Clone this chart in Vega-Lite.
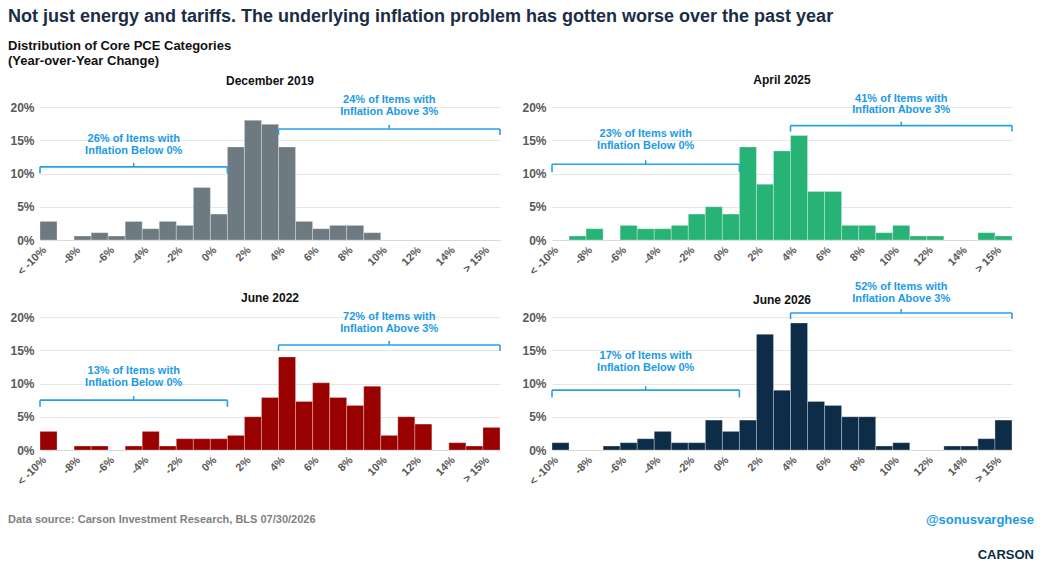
{
  "$schema": "https://vega.github.io/schema/vega-lite/v6.json",
  "background": "white",
  "padding": {"left": 8, "top": 8, "right": 6, "bottom": 2},
  "config": {
    "view": {"stroke": null},
    "font": "Liberation Sans",
    "title": {"fontSize": 12, "fontWeight": "bold", "color": "#111111", "offset": 6},
    "axisX": {
      "title": null, "grid": false, "values": [0.5, 2.5, 4.5, 6.5, 8.5, 10.5, 12.5, 14.5, 16.5, 18.5, 20.5, 22.5, 24.5, 26.5],
      "labelExpr": "datum.value < 1 ? '< -10%' : datum.value >= 25.9 ? '> 15%' : (floor(datum.value) - 10) + '%'",
      "labelAngle": -45, "labelAlign": "right", "labelBaseline": "top", "labelFontSize": 11, "labelFontWeight": "bold",
      "labelColor": "#595959", "ticks": false, "domainColor": "#d9d9d9", "labelPadding": 4
    },
    "axisY": {
      "title": "Frequency", "titleFontSize": 12, "titleFontWeight": "bold", "titleColor": "#595959",
      "values": [0, 5, 10, 15, 20], "labelExpr": "datum.value + '%'", "labelFontSize": 12, "labelFontWeight": "bold",
      "labelColor": "#595959", "domain": false, "ticks": false, "gridColor": "#e6e6e6", "labelPadding": 6
    }
  },
  "title": {
    "text": "Not just energy and tariffs. The underlying inflation problem has gotten worse over the past year",
    "subtitle": ["Distribution of Core PCE Categories", "(Year-over-Year Change)"],
    "anchor": "start", "fontSize": 18, "fontWeight": "bold", "color": "#1b2d45",
    "subtitleFontSize": 13, "subtitleFontWeight": "bold", "subtitleColor": "#111111", "subtitlePadding": 14, "offset": 6
  },
  "datasets": {
    "main": [
      {"p": "December 2019", "c": "bar", "k": 0, "v": 2.8}, {"p": "December 2019", "c": "bar", "k": 2, "v": 0.6},
      {"p": "December 2019", "c": "bar", "k": 3, "v": 1.1}, {"p": "December 2019", "c": "bar", "k": 4, "v": 0.6},
      {"p": "December 2019", "c": "bar", "k": 5, "v": 2.8}, {"p": "December 2019", "c": "bar", "k": 6, "v": 1.7},
      {"p": "December 2019", "c": "bar", "k": 7, "v": 2.8}, {"p": "December 2019", "c": "bar", "k": 8, "v": 2.2},
      {"p": "December 2019", "c": "bar", "k": 9, "v": 7.9}, {"p": "December 2019", "c": "bar", "k": 10, "v": 3.9},
      {"p": "December 2019", "c": "bar", "k": 11, "v": 14.0}, {"p": "December 2019", "c": "bar", "k": 12, "v": 18.0},
      {"p": "December 2019", "c": "bar", "k": 13, "v": 17.4}, {"p": "December 2019", "c": "bar", "k": 14, "v": 14.0},
      {"p": "December 2019", "c": "bar", "k": 15, "v": 2.8}, {"p": "December 2019", "c": "bar", "k": 16, "v": 1.7},
      {"p": "December 2019", "c": "bar", "k": 17, "v": 2.2}, {"p": "December 2019", "c": "bar", "k": 18, "v": 2.2},
      {"p": "December 2019", "c": "bar", "k": 19, "v": 1.1},

      {"p": "April 2025", "c": "bar", "k": 1, "v": 0.6}, {"p": "April 2025", "c": "bar", "k": 2, "v": 1.7},
      {"p": "April 2025", "c": "bar", "k": 4, "v": 2.2}, {"p": "April 2025", "c": "bar", "k": 5, "v": 1.7},
      {"p": "April 2025", "c": "bar", "k": 6, "v": 1.7}, {"p": "April 2025", "c": "bar", "k": 7, "v": 2.2},
      {"p": "April 2025", "c": "bar", "k": 8, "v": 3.9}, {"p": "April 2025", "c": "bar", "k": 9, "v": 5.0},
      {"p": "April 2025", "c": "bar", "k": 10, "v": 3.9}, {"p": "April 2025", "c": "bar", "k": 11, "v": 14.0},
      {"p": "April 2025", "c": "bar", "k": 12, "v": 8.4}, {"p": "April 2025", "c": "bar", "k": 13, "v": 13.4},
      {"p": "April 2025", "c": "bar", "k": 14, "v": 15.7}, {"p": "April 2025", "c": "bar", "k": 15, "v": 7.3},
      {"p": "April 2025", "c": "bar", "k": 16, "v": 7.3}, {"p": "April 2025", "c": "bar", "k": 17, "v": 2.2},
      {"p": "April 2025", "c": "bar", "k": 18, "v": 2.2}, {"p": "April 2025", "c": "bar", "k": 19, "v": 1.1},
      {"p": "April 2025", "c": "bar", "k": 20, "v": 2.2}, {"p": "April 2025", "c": "bar", "k": 21, "v": 0.6},
      {"p": "April 2025", "c": "bar", "k": 22, "v": 0.6}, {"p": "April 2025", "c": "bar", "k": 25, "v": 1.1},
      {"p": "April 2025", "c": "bar", "k": 26, "v": 0.6},

      {"p": "June 2022", "c": "bar", "k": 0, "v": 2.8}, {"p": "June 2022", "c": "bar", "k": 2, "v": 0.6},
      {"p": "June 2022", "c": "bar", "k": 3, "v": 0.6}, {"p": "June 2022", "c": "bar", "k": 5, "v": 0.6},
      {"p": "June 2022", "c": "bar", "k": 6, "v": 2.8}, {"p": "June 2022", "c": "bar", "k": 7, "v": 0.6},
      {"p": "June 2022", "c": "bar", "k": 8, "v": 1.7}, {"p": "June 2022", "c": "bar", "k": 9, "v": 1.7},
      {"p": "June 2022", "c": "bar", "k": 10, "v": 1.7}, {"p": "June 2022", "c": "bar", "k": 11, "v": 2.2},
      {"p": "June 2022", "c": "bar", "k": 12, "v": 5.0}, {"p": "June 2022", "c": "bar", "k": 13, "v": 7.9},
      {"p": "June 2022", "c": "bar", "k": 14, "v": 14.0}, {"p": "June 2022", "c": "bar", "k": 15, "v": 7.3},
      {"p": "June 2022", "c": "bar", "k": 16, "v": 10.1}, {"p": "June 2022", "c": "bar", "k": 17, "v": 7.9},
      {"p": "June 2022", "c": "bar", "k": 18, "v": 6.7}, {"p": "June 2022", "c": "bar", "k": 19, "v": 9.6},
      {"p": "June 2022", "c": "bar", "k": 20, "v": 2.2}, {"p": "June 2022", "c": "bar", "k": 21, "v": 5.0},
      {"p": "June 2022", "c": "bar", "k": 22, "v": 3.9}, {"p": "June 2022", "c": "bar", "k": 24, "v": 1.1},
      {"p": "June 2022", "c": "bar", "k": 25, "v": 0.6}, {"p": "June 2022", "c": "bar", "k": 26, "v": 3.4},

      {"p": "June 2026", "c": "bar", "k": 0, "v": 1.1}, {"p": "June 2026", "c": "bar", "k": 3, "v": 0.6},
      {"p": "June 2026", "c": "bar", "k": 4, "v": 1.1}, {"p": "June 2026", "c": "bar", "k": 5, "v": 1.7},
      {"p": "June 2026", "c": "bar", "k": 6, "v": 2.8}, {"p": "June 2026", "c": "bar", "k": 7, "v": 1.1},
      {"p": "June 2026", "c": "bar", "k": 8, "v": 1.1}, {"p": "June 2026", "c": "bar", "k": 9, "v": 4.5},
      {"p": "June 2026", "c": "bar", "k": 10, "v": 2.8}, {"p": "June 2026", "c": "bar", "k": 11, "v": 4.5},
      {"p": "June 2026", "c": "bar", "k": 12, "v": 17.4}, {"p": "June 2026", "c": "bar", "k": 13, "v": 9.0},
      {"p": "June 2026", "c": "bar", "k": 14, "v": 19.1}, {"p": "June 2026", "c": "bar", "k": 15, "v": 7.3},
      {"p": "June 2026", "c": "bar", "k": 16, "v": 6.7}, {"p": "June 2026", "c": "bar", "k": 17, "v": 5.0},
      {"p": "June 2026", "c": "bar", "k": 18, "v": 5.0}, {"p": "June 2026", "c": "bar", "k": 19, "v": 0.6},
      {"p": "June 2026", "c": "bar", "k": 20, "v": 1.1}, {"p": "June 2026", "c": "bar", "k": 23, "v": 0.6},
      {"p": "June 2026", "c": "bar", "k": 24, "v": 0.6}, {"p": "June 2026", "c": "bar", "k": 25, "v": 1.7},
      {"p": "June 2026", "c": "bar", "k": 26, "v": 4.5},

      {"p": "December 2019", "c": "seg", "x": 0, "x2": 11, "y": 11.0, "y2": 11.0},
      {"p": "December 2019", "c": "seg", "x": 0, "x2": 0, "y": 11.0, "y2": 10.0},
      {"p": "December 2019", "c": "seg", "x": 11, "x2": 11, "y": 11.0, "y2": 10.0},
      {"p": "December 2019", "c": "seg", "x": 5.5, "x2": 5.5, "y": 11.0, "y2": 11.6},
      {"p": "December 2019", "c": "seg", "x": 14, "x2": 27, "y": 16.7, "y2": 16.7},
      {"p": "December 2019", "c": "seg", "x": 14, "x2": 14, "y": 16.7, "y2": 15.8},
      {"p": "December 2019", "c": "seg", "x": 27, "x2": 27, "y": 16.7, "y2": 15.8},
      {"p": "December 2019", "c": "seg", "x": 20.5, "x2": 20.5, "y": 16.7, "y2": 17.3},
      {"p": "December 2019", "c": "txt", "x": 5.5, "y": 15.2, "t": "26% of Items with"},
      {"p": "December 2019", "c": "txt", "x": 5.5, "y": 13.4, "t": "Inflation Below 0%"},
      {"p": "December 2019", "c": "txt", "x": 20.5, "y": 21.0, "t": "24% of Items with"},
      {"p": "December 2019", "c": "txt", "x": 20.5, "y": 19.3, "t": "Inflation Above 3%"},

      {"p": "April 2025", "c": "seg", "x": 0, "x2": 11, "y": 11.4, "y2": 11.4},
      {"p": "April 2025", "c": "seg", "x": 0, "x2": 0, "y": 11.4, "y2": 10.2},
      {"p": "April 2025", "c": "seg", "x": 11, "x2": 11, "y": 11.4, "y2": 10.2},
      {"p": "April 2025", "c": "seg", "x": 5.5, "x2": 5.5, "y": 11.4, "y2": 12.0},
      {"p": "April 2025", "c": "seg", "x": 14, "x2": 27, "y": 17.2, "y2": 17.2},
      {"p": "April 2025", "c": "seg", "x": 14, "x2": 14, "y": 17.2, "y2": 16.3},
      {"p": "April 2025", "c": "seg", "x": 27, "x2": 27, "y": 17.2, "y2": 16.3},
      {"p": "April 2025", "c": "seg", "x": 20.5, "x2": 20.5, "y": 17.2, "y2": 17.8},
      {"p": "April 2025", "c": "txt", "x": 5.5, "y": 16.0, "t": "23% of Items with"},
      {"p": "April 2025", "c": "txt", "x": 5.5, "y": 14.1, "t": "Inflation Below 0%"},
      {"p": "April 2025", "c": "txt", "x": 20.5, "y": 21.2, "t": "41% of Items with"},
      {"p": "April 2025", "c": "txt", "x": 20.5, "y": 19.5, "t": "Inflation Above 3%"},

      {"p": "June 2022", "c": "seg", "x": 0, "x2": 11, "y": 7.5, "y2": 7.5},
      {"p": "June 2022", "c": "seg", "x": 0, "x2": 0, "y": 7.5, "y2": 6.5},
      {"p": "June 2022", "c": "seg", "x": 11, "x2": 11, "y": 7.5, "y2": 6.5},
      {"p": "June 2022", "c": "seg", "x": 5.5, "x2": 5.5, "y": 7.5, "y2": 8.1},
      {"p": "June 2022", "c": "seg", "x": 14, "x2": 27, "y": 15.8, "y2": 15.8},
      {"p": "June 2022", "c": "seg", "x": 14, "x2": 14, "y": 15.8, "y2": 14.9},
      {"p": "June 2022", "c": "seg", "x": 27, "x2": 27, "y": 15.8, "y2": 14.9},
      {"p": "June 2022", "c": "seg", "x": 20.5, "x2": 20.5, "y": 15.8, "y2": 16.4},
      {"p": "June 2022", "c": "txt", "x": 5.5, "y": 11.9, "t": "13% of Items with"},
      {"p": "June 2022", "c": "txt", "x": 5.5, "y": 10.1, "t": "Inflation Below 0%"},
      {"p": "June 2022", "c": "txt", "x": 20.5, "y": 20.0, "t": "72% of Items with"},
      {"p": "June 2022", "c": "txt", "x": 20.5, "y": 18.2, "t": "Inflation Above 3%"},

      {"p": "June 2026", "c": "seg", "x": 0, "x2": 11, "y": 9.0, "y2": 9.0},
      {"p": "June 2026", "c": "seg", "x": 0, "x2": 0, "y": 9.0, "y2": 7.9},
      {"p": "June 2026", "c": "seg", "x": 11, "x2": 11, "y": 9.0, "y2": 7.9},
      {"p": "June 2026", "c": "seg", "x": 5.5, "x2": 5.5, "y": 9.0, "y2": 9.6},
      {"p": "June 2026", "c": "seg", "x": 14, "x2": 27, "y": 20.6, "y2": 20.6},
      {"p": "June 2026", "c": "seg", "x": 14, "x2": 14, "y": 20.6, "y2": 19.7},
      {"p": "June 2026", "c": "seg", "x": 27, "x2": 27, "y": 20.6, "y2": 19.7},
      {"p": "June 2026", "c": "seg", "x": 20.5, "x2": 20.5, "y": 20.6, "y2": 21.2},
      {"p": "June 2026", "c": "txt", "x": 5.5, "y": 14.2, "t": "17% of Items with"},
      {"p": "June 2026", "c": "txt", "x": 5.5, "y": 12.3, "t": "Inflation Below 0%"},
      {"p": "June 2026", "c": "txt", "x": 20.5, "y": 24.5, "t": "52% of Items with"},
      {"p": "June 2026", "c": "txt", "x": 20.5, "y": 22.7, "t": "Inflation Above 3%"}
    ],
    "foot": [
      {"x": 0, "y": 0.55, "t": "Data source: Carson Investment Research, BLS   07/30/2026", "s": "src"},
      {"x": 1, "y": 0.55, "t": "@sonusvarghese", "s": "tag"},
      {"x": 1, "y": 0.0, "t": "CARSON", "s": "logo"}
    ]
  },
  "data": {"name": "main"},
  "spacing": 4,
  "align": "none",
  "center": false,
  "vconcat": [
    {
      "spacing": 20,
      "hconcat": [
        {
          "title": "December 2019", "width": 460, "height": 133,
          "transform": [{"filter": "datum.p == 'December 2019'"}],
          "layer": [
            {"transform": [{"filter": "datum.c == 'bar'"}, {"calculate": "datum.k + 1", "as": "k2"}],
             "mark": {"type": "bar", "color": "#6e7a82", "stroke": "white", "strokeWidth": 0.3},
             "encoding": {"x": {"field": "k", "type": "quantitative", "scale": {"domain": [0, 27], "nice": false, "zero": false}}, "x2": {"field": "k2"},
                          "y": {"field": "v", "type": "quantitative", "scale": {"domain": [0, 20], "nice": false}}, "y2": {"datum": 0}}},
            {"transform": [{"filter": "datum.c == 'seg'"}], "mark": {"type": "rule", "color": "#29a0e6", "strokeWidth": 1.6},
             "encoding": {"x": {"field": "x", "type": "quantitative"}, "x2": {"field": "x2"}, "y": {"field": "y", "type": "quantitative"}, "y2": {"field": "y2"}}},
            {"transform": [{"filter": "datum.c == 'txt'"}], "mark": {"type": "text", "color": "#1a9be6", "fontSize": 11, "fontWeight": "bold", "baseline": "middle"},
             "encoding": {"x": {"field": "x", "type": "quantitative"}, "y": {"field": "y", "type": "quantitative"}, "text": {"field": "t"}}}
          ]
        },
        {
          "title": "April 2025", "width": 460, "height": 133,
          "transform": [{"filter": "datum.p == 'April 2025'"}],
          "layer": [
            {"transform": [{"filter": "datum.c == 'bar'"}, {"calculate": "datum.k + 1", "as": "k2"}],
             "mark": {"type": "bar", "color": "#27b376", "stroke": "white", "strokeWidth": 0.3},
             "encoding": {"x": {"field": "k", "type": "quantitative", "scale": {"domain": [0, 27], "nice": false, "zero": false}}, "x2": {"field": "k2"},
                          "y": {"field": "v", "type": "quantitative", "scale": {"domain": [0, 20], "nice": false}}, "y2": {"datum": 0}}},
            {"transform": [{"filter": "datum.c == 'seg'"}], "mark": {"type": "rule", "color": "#29a0e6", "strokeWidth": 1.6},
             "encoding": {"x": {"field": "x", "type": "quantitative"}, "x2": {"field": "x2"}, "y": {"field": "y", "type": "quantitative"}, "y2": {"field": "y2"}}},
            {"transform": [{"filter": "datum.c == 'txt'"}], "mark": {"type": "text", "color": "#1a9be6", "fontSize": 11, "fontWeight": "bold", "baseline": "middle"},
             "encoding": {"x": {"field": "x", "type": "quantitative"}, "y": {"field": "y", "type": "quantitative"}, "text": {"field": "t"}}}
          ]
        }
      ]
    },
    {
      "spacing": 20,
      "hconcat": [
        {
          "title": "June 2022", "width": 460, "height": 133,
          "transform": [{"filter": "datum.p == 'June 2022'"}],
          "layer": [
            {"transform": [{"filter": "datum.c == 'bar'"}, {"calculate": "datum.k + 1", "as": "k2"}],
             "mark": {"type": "bar", "color": "#990000", "stroke": "white", "strokeWidth": 0.3},
             "encoding": {"x": {"field": "k", "type": "quantitative", "scale": {"domain": [0, 27], "nice": false, "zero": false}}, "x2": {"field": "k2"},
                          "y": {"field": "v", "type": "quantitative", "scale": {"domain": [0, 20], "nice": false}}, "y2": {"datum": 0}}},
            {"transform": [{"filter": "datum.c == 'seg'"}], "mark": {"type": "rule", "color": "#29a0e6", "strokeWidth": 1.6},
             "encoding": {"x": {"field": "x", "type": "quantitative"}, "x2": {"field": "x2"}, "y": {"field": "y", "type": "quantitative"}, "y2": {"field": "y2"}}},
            {"transform": [{"filter": "datum.c == 'txt'"}], "mark": {"type": "text", "color": "#1a9be6", "fontSize": 11, "fontWeight": "bold", "baseline": "middle"},
             "encoding": {"x": {"field": "x", "type": "quantitative"}, "y": {"field": "y", "type": "quantitative"}, "text": {"field": "t"}}}
          ]
        },
        {
          "title": {"text": "June 2026", "offset": -26}, "width": 460, "height": 133,
          "transform": [{"filter": "datum.p == 'June 2026'"}],
          "layer": [
            {"transform": [{"filter": "datum.c == 'bar'"}, {"calculate": "datum.k + 1", "as": "k2"}],
             "mark": {"type": "bar", "color": "#0d2c47", "stroke": "white", "strokeWidth": 0.3},
             "encoding": {"x": {"field": "k", "type": "quantitative", "scale": {"domain": [0, 27], "nice": false, "zero": false}}, "x2": {"field": "k2"},
                          "y": {"field": "v", "type": "quantitative", "scale": {"domain": [0, 20], "nice": false}}, "y2": {"datum": 0}}},
            {"transform": [{"filter": "datum.c == 'seg'"}], "mark": {"type": "rule", "color": "#29a0e6", "strokeWidth": 1.6},
             "encoding": {"x": {"field": "x", "type": "quantitative"}, "x2": {"field": "x2"}, "y": {"field": "y", "type": "quantitative"}, "y2": {"field": "y2"}}},
            {"transform": [{"filter": "datum.c == 'txt'"}], "mark": {"type": "text", "color": "#1a9be6", "fontSize": 11, "fontWeight": "bold", "baseline": "middle"},
             "encoding": {"x": {"field": "x", "type": "quantitative"}, "y": {"field": "y", "type": "quantitative"}, "text": {"field": "t"}}}
          ]
        }
      ]
    },
    {
      "data": {"name": "foot"},
      "width": 994,
      "height": 64,
      "encoding": {
        "x": {"field": "x", "type": "quantitative", "axis": null, "scale": {"domain": [0, 1]}},
        "y": {"field": "y", "type": "quantitative", "axis": null, "scale": {"domain": [0, 1]}},
        "text": {"field": "t"}
      },
      "layer": [
        {"transform": [{"filter": "datum.s == 'src'"}], "mark": {"type": "text", "align": "left", "dx": -32, "baseline": "middle", "fontWeight": "bold", "fontSize": 11, "color": "#7f7f7f"}},
        {"transform": [{"filter": "datum.s == 'tag'"}], "mark": {"type": "text", "align": "right", "baseline": "middle", "fontWeight": "bold", "fontSize": 13, "color": "#1a9be6"}},
        {"transform": [{"filter": "datum.s == 'logo'"}], "mark": {"type": "text", "align": "right", "baseline": "middle", "fontWeight": "bold", "fontSize": 13, "color": "#0d2c47", "letterSpacing": 2}}
      ]
    }
  ]
}
